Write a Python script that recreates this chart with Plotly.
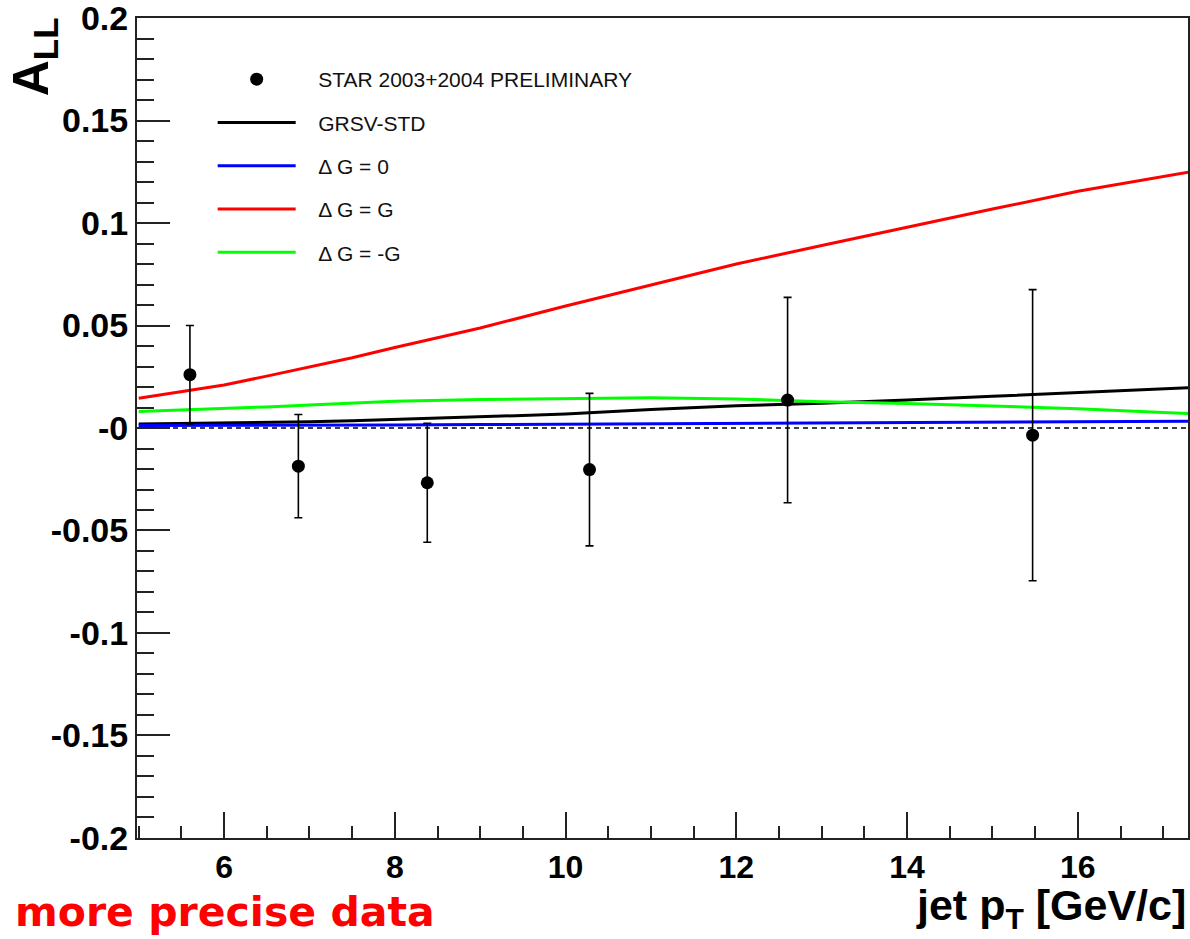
import plotly.graph_objects as go

# ---- data ----
pt_x = [5.60, 6.87, 8.38, 10.28, 12.60, 15.47]
pt_y = [0.026, -0.0186, -0.0267, -0.0203, 0.0136, -0.0035]
pt_err = [0.024, 0.0252, 0.029, 0.0372, 0.0501, 0.071]

curve_x = [5.0, 5.5, 6.0, 6.5, 7.0, 7.5, 8.0, 9.0, 10.0, 11.0, 12.0, 13.0, 14.0, 15.0, 16.0, 17.0, 17.3]
grsv_std = [0.0020, 0.0022, 0.0023, 0.0026, 0.0030, 0.0035, 0.0041, 0.0053, 0.0068, 0.0090, 0.0108, 0.0121, 0.0136, 0.0155, 0.0172, 0.0192, 0.0196]
dg_zero = [0.0012, 0.0012, 0.0013, 0.0013, 0.0014, 0.0014, 0.0015, 0.0017, 0.0019, 0.0021, 0.0024, 0.0027, 0.0030, 0.0032, 0.0033, 0.0033, 0.0033]
dg_g = [0.0145, 0.0177, 0.0210, 0.0253, 0.0297, 0.0343, 0.0393, 0.0488, 0.0595, 0.0697, 0.0800, 0.0890, 0.0980, 0.1068, 0.1155, 0.1228, 0.1248]
dg_minus_g = [0.0080, 0.0087, 0.0095, 0.0103, 0.0112, 0.0122, 0.0131, 0.0139, 0.0143, 0.0147, 0.0142, 0.0128, 0.0120, 0.0106, 0.0094, 0.0076, 0.0071]

y_tickvals = [0.2, 0.15, 0.1, 0.05, 0.0, -0.05, -0.1, -0.15, -0.2]
y_ticktext = ["0.2", "0.15", "0.1", "0.05", "-0", "-0.05", "-0.1", "-0.15", "-0.2"]
x_tickvals = [6, 8, 10, 12, 14, 16]
x_ticktext = ["6", "8", "10", "12", "14", "16"]

FONT = "Liberation Sans, Arial, Helvetica, sans-serif"
PAD = "\u00a0\u00a0\u00a0"

fig = go.Figure()

curves = [
    ("GRSV-STD", grsv_std, "#000000", 2),
    ("\u0394 G = 0", dg_zero, "#0000ff", 3),
    ("\u0394 G = G", dg_g, "#ff0000", 4),
    ("\u0394 G = -G", dg_minus_g, "#00ff00", 5),
]
for name, ys, col, rank in curves:
    fig.add_trace(go.Scatter(
        x=curve_x, y=ys, mode="lines", name=PAD + name,
        line=dict(color=col, width=3),
        legendgroup=name, legendrank=rank,
    ))

fig.add_trace(go.Scatter(
    x=pt_x, y=pt_y, mode="markers", name=PAD + "STAR 2003+2004 PRELIMINARY",
    marker=dict(color="black", size=13, symbol="circle"),
    error_y=dict(type="data", array=pt_err, visible=True, color="black", thickness=1.6, width=4),
    legendgroup="star", legendrank=1,
))

# dashed zero reference line
fig.add_shape(type="line", xref="x domain", yref="y", x0=0, x1=1, y0=0, y1=0,
              line=dict(color="black", width=1.5, dash="5px,4px"), layer="below")

fig.update_layout(
    width=1190, height=939,
    margin=dict(l=137, r=2, t=18, b=101),
    paper_bgcolor="white", plot_bgcolor="white",
    showlegend=True,
    legend=dict(
        x=0.072, y=0.95, xanchor="left", yanchor="top",
        font=dict(family=FONT, size=21, color="#111111"),
        bgcolor="rgba(0,0,0,0)", borderwidth=0,
        tracegroupgap=13, itemwidth=78,
    ),
    xaxis=dict(
        range=[4.98, 17.29],
        tickmode="array", tickvals=x_tickvals, ticktext=x_ticktext,
        ticks="inside", ticklen=26, tickwidth=1.5, tickcolor="#222",
        minor=dict(dtick=0.5, tick0=0, ticks="inside", ticklen=12, tickwidth=1.5, tickcolor="#222"),
        showgrid=False, zeroline=False, automargin=False,
        showline=True, linecolor="#222", linewidth=2, mirror=True,
        ticklabeloverflow="allow",
        tickfont=dict(family=FONT, size=32, color="black", weight="bold"),
    ),
    yaxis=dict(
        range=[-0.20001, 0.20001],
        tickmode="array", tickvals=y_tickvals, ticktext=y_ticktext,
        ticks="inside", ticklen=33, tickwidth=1.5, tickcolor="#222",
        minor=dict(dtick=0.01, tick0=0, ticks="inside", ticklen=17, tickwidth=1.5, tickcolor="#222"),
        showgrid=False, zeroline=False, automargin=False,
        showline=True, linecolor="#222", linewidth=2, mirror=True,
        ticklabeloverflow="allow",
        tickfont=dict(family=FONT, size=34, color="black", weight="bold"),
    ),
    annotations=[
        dict(text="<b>A<sub>LL</sub></b>", xref="paper", yref="paper",
             x=-0.098, y=0.952, xanchor="center", yanchor="middle",
             textangle=-90, showarrow=False,
             font=dict(family=FONT, size=50, color="black")),
        dict(text="<b>jet p<sub>T</sub> [GeV/c]</b>", xref="paper", yref="paper",
             x=1.0, y=-0.085, xanchor="right", yanchor="middle",
             showarrow=False,
             font=dict(family=FONT, size=43, color="black")),
        dict(text="<b>more precise data</b>", xref="paper", yref="paper",
             x=-0.118, y=-0.09, xanchor="left", yanchor="middle",
             showarrow=False,
             font=dict(family="DejaVu Sans, sans-serif", size=41, color="#ff0000")),
    ],
)

fig.write_html("out.html", config={"displayModeBar": False},
               post_script="document.body.style.margin='0px';")
